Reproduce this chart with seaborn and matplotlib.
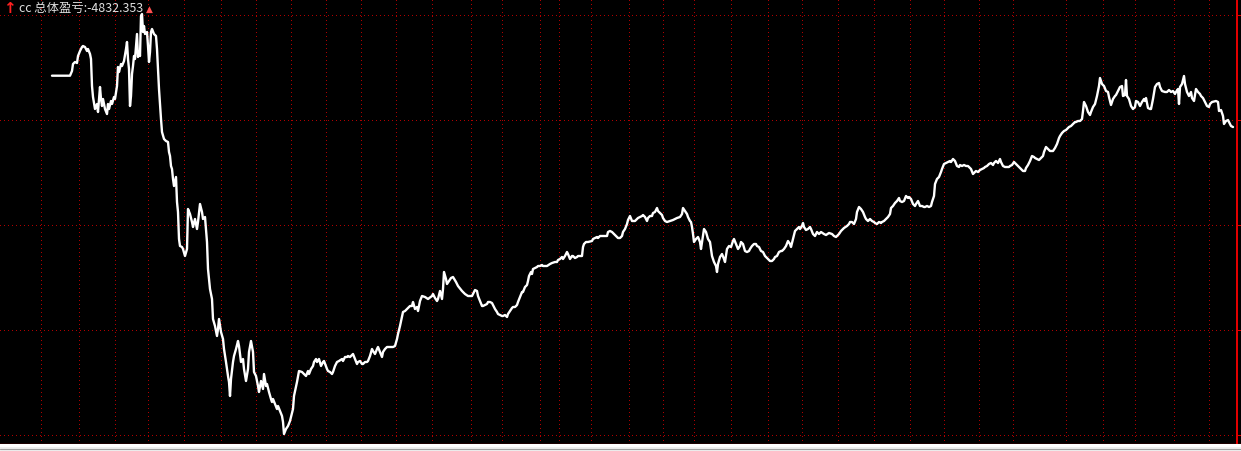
import matplotlib
matplotlib.use("Agg")
import matplotlib.pyplot as plt
import seaborn as sns
from matplotlib.patches import Rectangle
from matplotlib.lines import Line2D

# equity curve (bar position, total profit)
bars = [
    52, 70, 72, 73, 75, 77, 78, 80, 82, 83,
    85, 87, 88, 90, 91, 92, 93, 95, 97, 98,
    99, 100, 101, 102, 103, 105, 107, 108, 109, 111,
    112, 114, 115, 117, 118, 119, 121, 122, 124, 126,
    127, 128, 129, 130, 131, 132, 133, 134, 135, 137,
    138, 139, 140, 141, 142, 143, 144, 145, 147, 148,
    149, 150, 151, 152, 154, 156, 157, 158, 159, 161,
    162, 164, 166, 168, 169, 170, 171, 172, 173, 174,
    176, 177, 178, 179, 180, 182, 183, 185, 187, 188,
    190, 192, 193, 195, 197, 198, 200, 202, 203, 205,
    207, 208, 210, 212, 213, 215, 217, 218, 219, 221,
    223, 224, 226, 228, 229, 230, 231, 233, 234, 236,
    238, 239, 241, 243, 244, 246, 248, 249, 251, 253,
    254, 256, 258, 259, 261, 263, 264, 266, 267, 269,
    271, 272, 273, 275, 277, 278, 280, 282, 283, 284,
    286, 288, 290, 291, 293, 294, 297, 299, 302, 304,
    306, 308, 309, 311, 313, 314, 316, 317, 319, 321,
    323, 324, 327, 328, 330, 332, 333, 335, 337, 339,
    342, 343, 345, 347, 348, 350, 352, 353, 355, 357,
    358, 360, 362, 363, 365, 367, 368, 370, 372, 373,
    375, 377, 378, 380, 382, 383, 385, 387, 390, 393,
    395, 397, 398, 400, 403, 405, 407, 410, 412, 413,
    415, 417, 418, 420, 422, 425, 428, 432, 433, 435,
    437, 438, 440, 442, 443, 444, 446, 447, 449, 451,
    453, 456, 458, 462, 465, 468, 472, 475, 477, 478,
    480, 482, 483, 485, 487, 488, 490, 492, 493, 495,
    497, 498, 500, 502, 503, 505, 507, 508, 510, 512,
    513, 515, 517, 518, 520, 522, 523, 525, 527, 528,
    529, 531, 532, 533, 535, 537, 538, 540, 542, 543,
    547, 550, 552, 555, 557, 558, 560, 562, 563, 565,
    567, 568, 570, 572, 573, 575, 577, 578, 582, 583,
    584, 586, 588, 592, 593, 595, 597, 598, 600, 603,
    607, 608, 610, 612, 613, 615, 617, 618, 620, 622,
    623, 625, 627, 628, 630, 632, 635, 637, 638, 640,
    642, 643, 645, 647, 648, 650, 652, 653, 655, 657,
    658, 660, 662, 663, 665, 667, 670, 673, 677, 680,
    682, 683, 685, 687, 688, 690, 691, 692, 693, 694,
    696, 698, 700, 701, 704, 706, 708, 710, 712, 714,
    716, 717, 718, 720, 722, 724, 725, 727, 729, 731,
    733, 734, 736, 738, 740, 741, 743, 745, 747, 749,
    750, 752, 754, 756, 757, 759, 761, 763, 765, 766,
    768, 770, 772, 774, 775, 777, 779, 781, 782, 784,
    786, 788, 790, 791, 793, 795, 797, 799, 800, 802,
    803, 804, 806, 808, 810, 811, 813, 815, 817, 819,
    821, 824, 826, 829, 832, 834, 836, 839, 841, 844,
    847, 849, 850, 852, 854, 856, 857, 859, 861, 863,
    865, 866, 868, 870, 872, 874, 875, 877, 879, 881,
    882, 884, 886, 888, 890, 891, 893, 895, 897, 899,
    900, 902, 904, 906, 908, 909, 911, 913, 915, 916,
    918, 920, 922, 924, 925, 927, 929, 931, 932, 934,
    935, 937, 939, 941, 942, 944, 946, 948, 950, 951,
    953, 955, 957, 959, 960, 962, 964, 966, 968, 969,
    971, 973, 975, 976, 978, 980, 982, 984, 985, 987,
    989, 991, 993, 994, 996, 998, 1000, 1001, 1003, 1005,
    1009, 1010, 1012, 1014, 1016, 1018, 1019, 1021, 1023, 1025,
    1026, 1028, 1030, 1032, 1034, 1035, 1037, 1039, 1041, 1043,
    1044, 1046, 1048, 1050, 1053, 1055, 1057, 1059, 1060, 1062,
    1064, 1066, 1068, 1069, 1071, 1073, 1075, 1076, 1078, 1080,
    1082, 1083, 1084, 1086, 1088, 1090, 1091, 1093, 1095, 1097,
    1099, 1100, 1102, 1104, 1106, 1108, 1109, 1111, 1113, 1115,
    1116, 1118, 1120, 1122, 1123, 1125, 1126, 1127, 1129, 1131,
    1133, 1135, 1136, 1138, 1140, 1142, 1144, 1145, 1146, 1148,
    1150, 1151, 1153, 1155, 1157, 1159, 1160, 1162, 1165, 1167,
    1169, 1171, 1173, 1175, 1176, 1178, 1179, 1180, 1182, 1184,
    1185, 1187, 1189, 1191, 1192, 1194, 1196, 1198, 1200, 1201,
    1203, 1205, 1207, 1209, 1210, 1212, 1216, 1218, 1219, 1221,
    1223, 1224, 1226, 1228, 1229, 1231, 1233,
]

profit = [
    -3806, -3806, -3712, -3572, -3532, -3552, -3412, -3312, -3232, -3212,
    -3232, -3312, -3272, -3372, -3472, -4012, -4232, -4472, -4372, -4532,
    -4272, -4032, -4272, -4412, -4272, -4472, -4572, -4372, -4472, -4312,
    -4372, -4232, -4272, -4012, -3632, -3732, -3572, -3612, -3512, -3272,
    -3132, -3472, -3672, -4412, -4212, -3772, -3612, -3412, -3472, -2972,
    -3432, -3332, -3412, -2612, -2572, -2932, -2812, -2972, -2932, -3212,
    -3532, -3332, -2932, -2872, -2972, -3012, -3272, -3672, -4072, -4672,
    -4932, -5072, -5112, -5132, -5332, -5412, -5612, -5672, -5872, -6012,
    -5832, -6332, -6532, -7072, -7212, -7232, -7272, -7412, -7272, -6472,
    -6572, -6732, -6832, -6672, -6872, -6732, -6372, -6532, -6672, -6632,
    -7132, -7672, -8072, -8272, -8672, -8812, -9012, -8872, -8672, -8932,
    -9072, -9272, -9532, -9812, -9932, -10212, -9872, -9532, -9412, -9272,
    -9112, -9212, -9532, -9472, -9672, -9912, -9672, -9332, -9112, -9332,
    -9732, -9812, -10012, -10132, -9912, -10072, -9772, -10012, -9972, -10132,
    -10272, -10332, -10272, -10372, -10472, -10412, -10512, -10612, -10732, -10972,
    -10872, -10812, -10712, -10632, -10472, -10212, -9932, -9712, -9732, -9772,
    -9812, -9712, -9772, -9672, -9612, -9532, -9472, -9532, -9472, -9612,
    -9532, -9512, -9672, -9712, -9732, -9772, -9732, -9612, -9532, -9512,
    -9472, -9512, -9432, -9432, -9412, -9432, -9392, -9372, -9472, -9572,
    -9532, -9512, -9572, -9572, -9532, -9532, -9512, -9412, -9272, -9312,
    -9372, -9272, -9232, -9332, -9432, -9332, -9272, -9232, -9232, -9232,
    -9212, -9072, -8972, -8812, -8532, -8512, -8472, -8412, -8412, -8332,
    -8472, -8432, -8512, -8312, -8212, -8232, -8272, -8212, -8172, -8252,
    -8312, -8272, -8112, -8272, -8072, -7732, -7872, -7972, -7912, -7852,
    -7832, -7932, -8012, -8112, -8172, -8212, -8212, -8092, -8112, -8212,
    -8312, -8412, -8412, -8392, -8372, -8332, -8332, -8352, -8392, -8472,
    -8532, -8572, -8592, -8612, -8612, -8592, -8632, -8572, -8512, -8452,
    -8432, -8432, -8392, -8332, -8232, -8132, -8132, -8032, -7992, -7912,
    -7812, -7732, -7772, -7672, -7652, -7632, -7612, -7612, -7592, -7612,
    -7612, -7572, -7552, -7532, -7532, -7492, -7472, -7432, -7472, -7412,
    -7332, -7372, -7472, -7412, -7412, -7452, -7432, -7412, -7412, -7232,
    -7172, -7132, -7132, -7112, -7072, -7052, -7032, -7052, -7012, -7012,
    -7012, -6932, -6912, -6932, -6952, -6992, -7032, -7052, -7052, -7012,
    -6932, -6872, -6772, -6692, -6612, -6712, -6712, -6672, -6652, -6632,
    -6612, -6592, -6632, -6712, -6652, -6612, -6612, -6552, -6532, -6452,
    -6512, -6552, -6592, -6652, -6712, -6732, -6712, -6692, -6652, -6632,
    -6572, -6452, -6512, -6572, -6632, -6712, -6732, -6832, -6972, -7132,
    -7072, -7032, -7132, -7272, -6872, -6932, -7072, -7132, -7412, -7532,
    -7612, -7732, -7572, -7432, -7372, -7472, -7532, -7272, -7212, -7232,
    -7112, -7072, -7172, -7272, -7212, -7132, -7172, -7312, -7332, -7312,
    -7272, -7212, -7172, -7172, -7212, -7232, -7312, -7332, -7412, -7432,
    -7472, -7512, -7512, -7472, -7432, -7412, -7332, -7312, -7312, -7272,
    -7212, -7112, -7172, -7232, -7072, -6912, -6872, -6832, -6872, -6812,
    -6752, -6832, -6892, -6872, -6832, -6872, -6972, -7012, -6932, -6972,
    -6932, -6972, -6992, -6952, -6972, -7012, -7032, -6972, -6912, -6852,
    -6812, -6772, -6732, -6732, -6772, -6672, -6532, -6432, -6472, -6532,
    -6632, -6672, -6712, -6672, -6712, -6732, -6752, -6772, -6732, -6752,
    -6732, -6712, -6672, -6632, -6572, -6452, -6412, -6352, -6312, -6252,
    -6312, -6332, -6312, -6212, -6252, -6232, -6272, -6372, -6412, -6372,
    -6312, -6412, -6412, -6432, -6432, -6412, -6432, -6412, -6332, -6212,
    -5972, -5872, -5832, -5732, -5672, -5572, -5552, -5532, -5512, -5532,
    -5472, -5512, -5612, -5632, -5592, -5612, -5592, -5612, -5612, -5632,
    -5672, -5772, -5732, -5712, -5732, -5692, -5672, -5652, -5632, -5612,
    -5572, -5552, -5592, -5552, -5512, -5552, -5472, -5532, -5612, -5632,
    -5632, -5612, -5592, -5532, -5572, -5612, -5632, -5672, -5712, -5712,
    -5652, -5592, -5512, -5412, -5432, -5452, -5472, -5492, -5452, -5412,
    -5332, -5232, -5272, -5312, -5312, -5252, -5172, -5052, -5012, -4952,
    -4912, -4892, -4852, -4832, -4812, -4772, -4732, -4732, -4712, -4712,
    -4672, -4512, -4332, -4412, -4532, -4592, -4532, -4432, -4372, -4212,
    -4012, -3852, -3972, -4012, -4112, -4132, -4232, -4392, -4272, -4212,
    -4192, -4112, -4032, -4012, -4212, -4192, -3892, -4212, -4272, -4412,
    -4472, -4432, -4312, -4332, -4412, -4332, -4272, -4312, -4252, -4452,
    -4472, -4472, -4272, -4032, -3972, -3952, -4032, -4112, -4132, -4132,
    -4092, -4132, -4112, -4172, -4132, -4072, -4372, -4032, -3972, -3812,
    -3972, -4132, -4212, -4132, -4252, -4312, -4072, -4132, -4172, -4212,
    -4252, -4332, -4412, -4432, -4372, -4332, -4312, -4332, -4512, -4492,
    -4612, -4772, -4712, -4692, -4732, -4812, -4832.353,
]

label_text = "cc 总体盈亏:-4832.353"

# chart frame: grid levels and time separators of the terminal window
grid_levels = [-2592, -4692, -6792, -8892, -10992]
time_marks = [41, 79, 115, 148, 184, 221, 256, 291, 326, 361, 396, 432, 471,
              502, 540, 559, 591, 629, 663, 694, 731, 768, 802, 838, 874, 910,
              944, 979, 1013, 1066, 1103, 1135, 1174, 1209]

sns.set_theme(style="dark")
plt.rcParams["font.family"] = ["Noto Sans CJK SC", "DejaVu Sans"]

W, H = 1241, 452
fig = plt.figure(figsize=(W / 100, H / 100), dpi=100, facecolor="#f0f0f0")
ax = fig.add_axes([0, 7 / H, 1, 445 / H])
ax.set_facecolor("black")

sns.lineplot(x=bars, y=profit, estimator=None, sort=False, color="white",
             linewidth=1.7, ax=ax)

ax.set_xlim(0, W)
ax.set_ylim(-11172, -2272)
ax.set_xticks(time_marks)
ax.set_yticks(grid_levels)
ax.tick_params(length=0, labelbottom=False, labelleft=False)
ax.set_xlabel("")
ax.set_ylabel("")
ax.grid(True, color="#b00000", linestyle=(0, (1, 3)), linewidth=0.72,
        antialiased=False)
for side in ["top", "left", "right"]:
    ax.spines[side].set_visible(False)
ax.spines["bottom"].set_color("#e00000")
ax.spines["bottom"].set_linewidth(0.9)

# price scale border with small ticks
ax.axvline(1236.5, color="#e00000", linewidth=1.44)
ax.hlines(grid_levels, 1237, W, colors="#e00000", linewidth=0.72)

# bottom strip under the chart
fig.patches.append(Rectangle((0, 4 / H), 1, 3 / H, transform=fig.transFigure,
                             facecolor="white", edgecolor="none"))
fig.lines.append(Line2D([0, 1], [2.5 / H, 2.5 / H], transform=fig.transFigure,
                        color="#a0a0a0", linewidth=0.8))

# header label
fig.text(9.5 / W, 1 - 8.5 / H, "↑", color="#ff2020", fontsize=11,
         fontweight="bold", ha="center", va="center", family="DejaVu Sans")
fig.text(19 / W, 1 - 8.5 / H, label_text, color="#e0e0e0", fontsize=8.9,
         ha="left", va="center")
fig.text(149 / W, 1 - 9 / H, "▲", color="#ff5050", fontsize=6.5,
         ha="center", va="center", family="DejaVu Sans")

fig.savefig("out.png", dpi=100, facecolor=fig.get_facecolor())
